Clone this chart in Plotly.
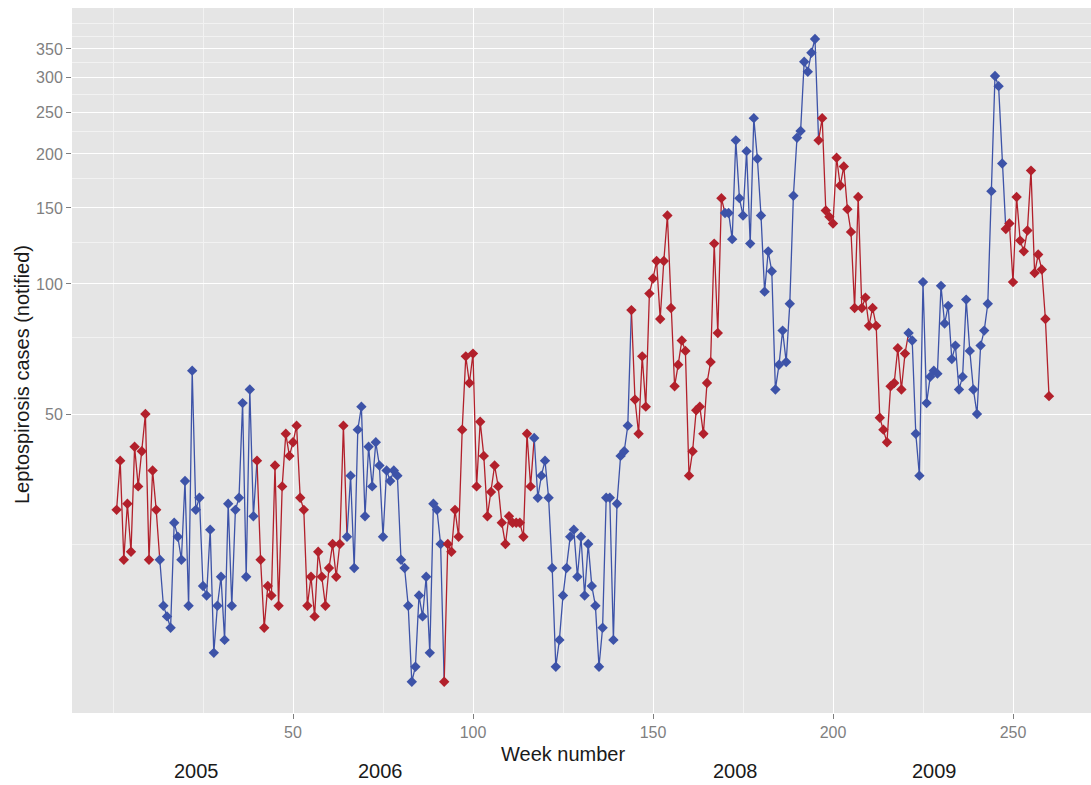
import plotly.graph_objects as go

# ---- data ----
weeks = list(range(1, 261))
cases = [
    30, 39, 23, 31, 24, 42, 34, 41, 50, 23, 37, 30,
    23, 18, 17, 16, 28, 26, 23, 35, 18, 63, 30, 32, 20, 19, 27, 14, 18, 21, 15, 31, 18, 30, 32, 53, 21, 57, 29,
    39, 23, 16, 20, 19, 38, 18, 34, 45, 40, 43, 47, 32, 30, 18, 21, 17, 24, 21, 18, 22, 25, 21, 25, 47,
    26, 36, 22, 46, 52, 29, 42, 34, 43, 38, 26, 37, 35, 37, 36, 23, 22, 18, 12, 13, 19, 17, 21, 14, 31, 30, 25,
    12, 25, 24, 30, 26, 46, 68, 59, 69, 34, 48, 40, 29, 33, 38, 34, 28, 25, 29, 28, 28, 28, 26, 45, 34,
    44, 32, 36, 39, 32, 22, 13, 15, 19, 22, 26, 27, 21, 26, 19, 25, 20, 18, 13, 16, 32, 32, 15, 31, 40, 41, 47,
    87, 54, 45, 68, 52, 95, 103, 113, 83, 113, 144, 88, 58, 65, 74, 70, 36, 41, 51, 52, 45, 59, 66, 124, 77, 158,
    146, 146, 127, 215, 158, 144, 203, 124, 242, 195, 144, 96, 119, 107, 57, 65, 78, 66, 90, 160, 218, 226, 327, 310, 343, 369,
    215, 242, 148, 143, 138, 196, 169, 187, 149, 132, 88, 159, 88, 93, 80, 88, 80, 49, 46, 43, 58, 59, 71, 57, 69,
    77, 74, 45, 36, 101, 53, 61, 63, 62, 99, 81, 89, 67, 72, 57, 61, 92, 70, 57, 50, 72, 78, 90, 164, 303, 287, 190,
    134, 138, 101, 159, 126, 119, 133, 183, 106, 117, 108, 83, 55,
]
# week ranges drawn in red (the rest in blue)
red_runs = [(1, 12), (40, 64), (92, 116), (144, 169), (196, 220), (248, 260)]

y_ticks = [50, 100, 150, 200, 250, 300, 350]
y_minor = [25, 75, 125, 175, 225, 275, 325, 375, 400]
x_ticks = [50, 100, 150, 200, 250]
x_minor = [0, 25, 75, 125, 175, 225, 275]
year_labels = ["2005", "2006", "2008", "2009"]
year_px = [196, 380, 735, 934]

RED = "#B2202B"
BLUE = "#3D53A8"

def is_red(w):
    return any(a <= w <= b for a, b in red_runs)

colors = [RED if is_red(w) else BLUE for w in weeks]

fig = go.Figure()

# line segments: segment i -> i+1 takes the colour of point i
n = len(weeks)
start = 0
while start < n - 1:
    c = colors[start]
    end = start
    while end + 1 < n - 1 and colors[end + 1] == c:
        end += 1
    idx = list(range(start, end + 2))
    fig.add_trace(go.Scatter(
        x=[weeks[i] for i in idx], y=[cases[i] for i in idx],
        mode="lines", line=dict(color=c, width=1.3),
        hoverinfo="skip", showlegend=False))
    start = end + 1

fig.add_trace(go.Scatter(
    x=weeks, y=cases, mode="markers",
    marker=dict(symbol="diamond", size=8, color=colors, line=dict(width=0)),
    showlegend=False))

W, H = 1091, 785
ML, MR, MT, MB = 72, 0, 8, 72
pw = W - ML - MR
ph = H - MT - MB
px_per_week = 3.6
week0_px = 113
xmin = -(week0_px - ML) / px_per_week
xmax = xmin + pw / px_per_week

import math
ylo = math.log10(10.16)
yhi = ylo + ph / 432.0

tick_font = dict(family="Liberation Sans, Arial, sans-serif", size=16, color="#7F7F7F")
title_font = dict(family="Liberation Sans, Arial, sans-serif", size=20, color="#1A1A1A")

fig.update_layout(
    width=W, height=H,
    margin=dict(l=ML, r=MR, t=MT, b=MB, pad=0),
    paper_bgcolor="white", plot_bgcolor="#E5E5E5",
    xaxis=dict(
        range=[xmin, xmax], tickmode="array", tickvals=x_ticks,
        ticktext=[str(v) for v in x_ticks],
        showgrid=True, gridcolor="white", gridwidth=1.3,
        minor=dict(tickmode="array", tickvals=x_minor, showgrid=True,
                   gridcolor="#F2F2F2", gridwidth=0.6, ticks=""),
        ticks="outside", ticklen=5, tickcolor="#7F7F7F", tickwidth=1,
        tickfont=tick_font, zeroline=False, showline=False,
    ),
    yaxis=dict(
        type="log", range=[ylo, yhi], tickmode="array", tickvals=y_ticks,
        ticktext=[str(v) for v in y_ticks],
        showgrid=True, gridcolor="white", gridwidth=1.3,
        minor=dict(tickmode="array", tickvals=y_minor, showgrid=True,
                   gridcolor="#F2F2F2", gridwidth=0.6, ticks=""),
        ticks="outside", ticklen=5, tickcolor="#7F7F7F", tickwidth=1,
        tickfont=tick_font, zeroline=False, showline=False,
    ),
)

def px_to_paper_x(px):
    return (px - ML) / pw

def py_to_paper_y(py):
    return (H - MB - py) / ph

annotations = [
    dict(text="Leptospirosis cases (notified)", textangle=-90,
         x=px_to_paper_x(22), y=py_to_paper_y(375), xref="paper", yref="paper",
         xanchor="center", yanchor="middle", showarrow=False, font=title_font),
    dict(text="Week number",
         x=px_to_paper_x(563), y=py_to_paper_y(754), xref="paper", yref="paper",
         xanchor="center", yanchor="middle", showarrow=False, font=title_font),
]
for lab, px in zip(year_labels, year_px):
    annotations.append(dict(text=lab, x=px_to_paper_x(px), y=py_to_paper_y(771),
                            xref="paper", yref="paper", xanchor="center", yanchor="middle",
                            showarrow=False, font=title_font))
fig.update_layout(annotations=annotations)

fig.write_html("out.html")
